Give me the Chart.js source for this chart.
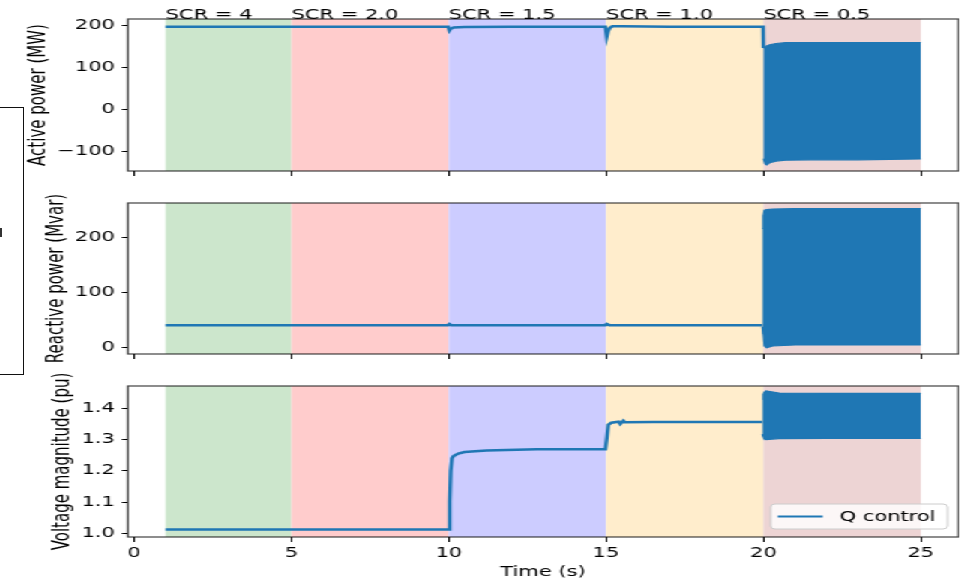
<!DOCTYPE html>
<html>
<head>
<meta charset="utf-8">
<script src="https://cdn.jsdelivr.net/npm/chart.js@4.4.1/dist/chart.umd.min.js"></script>
<style>
  html, body { margin: 0; padding: 0; background: #fff; overflow: hidden; }
  #fig { position: relative; width: 961px; height: 582px; overflow: hidden; }
  #stretch { position: absolute; left: 0; top: 0; width: 641px; height: 582px;
             transform: scaleX(1.4992); transform-origin: 0 0; }
  #stretch canvas { position: absolute; left: 0; }
  #bracket { position: absolute; left: -4px; top: 107px; width: 26px; height: 266px;
             border: 1.5px solid #111; }
  #mark { position: absolute; left: 0; top: 228px; width: 2px; height: 9px; background: #333; }
</style>
</head>
<body>
<div id="fig">
  <div id="bracket"></div>
  <div id="mark"></div>
  <div id="stretch">
    <canvas id="cP" width="641" height="188" style="top:0px"></canvas>
    <canvas id="cQ" width="641" height="182" style="top:188px"></canvas>
    <canvas id="cV" width="641" height="212" style="top:370px"></canvas>
  </div>
</div>
<script>
// SCR test windows
const scrStart = [1, 5, 10, 15, 20];
const scrEnd = [5, 10, 15, 20, 25];
const scrLabels = ['SCR = 4', 'SCR = 2.0', 'SCR = 1.5', 'SCR = 1.0', 'SCR = 0.5'];
const scrColors = ['rgb(204,230,204)', 'rgb(255,204,204)', 'rgb(204,204,255)', 'rgb(255,237,204)', 'rgb(237,212,212)'];

// active power (MW)
const pTime = [1, 5, 9.98, 10.02, 10.06, 10.15, 10.5, 12, 14.98, 15.02, 15.06, 15.12, 15.2, 15.5, 17, 19.99, 20.0];
const pValues = [196, 196, 196, 187, 191, 194, 195, 196, 196, 172, 184, 193, 197, 197, 196, 196, 145];
const pBandTime = [20.0, 20.05, 20.1, 20.2, 20.4, 20.7, 21.5, 23, 25.0];
const pBandHigh = [145, 147, 150, 153, 156, 158, 158, 158, 158];
const pBandLow = [-118, -130, -133, -128, -124, -122, -121, -121, -119];

// reactive power (Mvar)
const qTime = [1, 5, 9.98, 10.02, 10.08, 12, 14.98, 15.02, 15.1, 17, 19.96];
const qValues = [41, 41, 41, 43, 41, 41, 41, 43, 41, 41, 41];
const qBandTime = [19.96, 19.99, 20.03, 20.1, 20.3, 21, 23, 25.0];
const qBandHigh = [217, 240, 250, 251, 252, 253, 253, 253];
const qBandLow = [38, 25, 3, 0, 3, 5, 5, 5];

// voltage magnitude (pu)
const vTime = [1, 5, 10.0, 10.03, 10.06, 10.1, 10.15, 10.3, 10.5, 11.2, 12.8, 14.98, 15.03, 15.07, 15.17, 15.4, 15.45, 15.55, 15.6, 16.5, 19.96];
const vValues = [1.012, 1.012, 1.012, 1.10, 1.20, 1.240, 1.247, 1.255, 1.260, 1.265, 1.269, 1.269, 1.31, 1.347, 1.354, 1.357, 1.350, 1.360, 1.355, 1.356, 1.356];
const vBandTime = [19.96, 19.99, 20.03, 20.08, 20.5, 22, 25.0];
const vBandHigh = [1.43, 1.445, 1.452, 1.456, 1.449, 1.448, 1.448];
const vBandLow = [1.317, 1.31, 1.302, 1.300, 1.303, 1.304, 1.304];

const seriesName = 'Q control';
const tMin = -0.2, tMax = 26.2;
const blue = '#1f77b4';

Chart.defaults.font.family = '"DejaVu Sans", sans-serif';
Chart.defaults.font.size = 14;
Chart.defaults.color = '#000';

const pts = (xs, ys) => xs.map((x, i) => ({ x: x, y: ys[i] }));

function series(time, values, bandTime, bandHigh, bandLow) {
  return [
    { label: seriesName, data: pts(time, values), borderColor: blue, borderWidth: 2.5, pointRadius: 0, fill: false },
    { label: seriesName + ' low', data: pts(bandTime, bandLow), borderColor: blue, borderWidth: 1.2, pointRadius: 0, fill: false },
    { label: seriesName + ' high', data: pts(bandTime, bandHigh), borderColor: blue, borderWidth: 1.2, pointRadius: 0,
      backgroundColor: blue, fill: '-1' }
  ];
}

// coloured SCR windows behind the traces
const spans = {
  id: 'spans',
  beforeDatasetsDraw(chart) {
    const { ctx, chartArea: a, scales: { x } } = chart;
    ctx.save();
    scrStart.forEach((s, i) => {
      const x0 = x.getPixelForValue(s), x1 = x.getPixelForValue(scrEnd[i]);
      ctx.fillStyle = scrColors[i];
      ctx.fillRect(x0, a.top, x1 - x0, a.bottom - a.top);
    });
    ctx.restore();
  }
};

const frame = {
  id: 'frame',
  afterDraw(chart) {
    const { ctx, chartArea: a } = chart;
    ctx.save();
    ctx.strokeStyle = 'rgba(0,0,0,0.75)';
    ctx.lineWidth = 1.2;
    ctx.strokeRect(a.left, a.top, a.right - a.left, a.bottom - a.top);
    ctx.restore();
  }
};

const scrText = {
  id: 'scrText',
  afterDraw(chart) {
    const { ctx, chartArea: a, scales: { x } } = chart;
    ctx.save();
    ctx.fillStyle = '#000';
    ctx.font = '14px "DejaVu Sans"';
    ctx.textBaseline = 'alphabetic';
    ctx.textAlign = 'left';
    scrStart.forEach((s, i) => ctx.fillText(scrLabels[i], x.getPixelForValue(s), a.top));
    ctx.restore();
  }
};

const legendBox = {
  id: 'legendBox',
  afterDraw(chart) {
    const { ctx, chartArea: a } = chart;
    const ds = chart.data.datasets[0];
    const w = 118, h = 25;
    const x = a.right - 7.3 - w, y = a.bottom - 8 - h;
    ctx.save();
    ctx.beginPath();
    ctx.roundRect(x, y, w, h, 3);
    ctx.fillStyle = 'rgba(255,255,255,0.8)';
    ctx.fill();
    ctx.strokeStyle = '#cccccc';
    ctx.lineWidth = 1;
    ctx.stroke();
    ctx.beginPath();
    ctx.moveTo(x + 4.7, y + h / 2);
    ctx.lineTo(x + 34.7, y + h / 2);
    ctx.strokeStyle = ds.borderColor;
    ctx.lineWidth = 2;
    ctx.stroke();
    ctx.fillStyle = '#000';
    ctx.font = '14px "DejaVu Sans"';
    ctx.textBaseline = 'middle';
    ctx.fillText(ds.label, x + 46, y + h / 2 + 1);
    ctx.restore();
  }
};

const minus = v => String(v).replace('-', '\u2212');

function makeChart(id, o) {
  return new Chart(document.getElementById(id), {
    type: 'line',
    data: { datasets: o.datasets },
    options: {
      responsive: false,
      animation: false,
      events: [],
      layout: { padding: { top: o.padTop, right: 1.7, left: 0, bottom: 0 } },
      plugins: { legend: { display: false }, tooltip: { enabled: false } },
      elements: { line: { tension: 0 } },
      scales: {
        x: {
          type: 'linear', min: tMin, max: tMax,
          afterFit: s => { s.height = o.xHeight; },
          ticks: { stepSize: 5, includeBounds: false, padding: 3, display: o.xLabels, color: '#000' },
          grid: { drawOnChartArea: false, drawTicks: true, tickLength: 5, tickColor: '#000', tickWidth: 1 },
          border: { display: false },
          title: { display: o.xLabels, text: 'Time (s)', color: '#000', padding: { top: 0, bottom: 0.8 } }
        },
        y: {
          min: o.yMin, max: o.yMax,
          afterFit: s => { s.width = 85.3; },
          ticks: { stepSize: o.step, includeBounds: false, padding: 4.6, color: '#000', callback: o.fmt },
          grid: { drawOnChartArea: false, drawTicks: true, tickLength: 4, tickColor: '#000', tickWidth: 1 },
          border: { display: false },
          title: { display: true, text: o.label, color: '#000', font: { size: 15 },
                   padding: { top: o.titlePad, bottom: 0 } }
        }
      }
    },
    plugins: [spans, frame].concat(o.extra || [])
  });
}

makeChart('cP', {
  datasets: series(pTime, pValues, pBandTime, pBandHigh, pBandLow),
  padTop: 19, xHeight: 17, xLabels: false,
  yMin: -147.6, yMax: 214.3, step: 100, fmt: v => minus(v),
  label: 'Active power (MW)', titlePad: 16.7,
  extra: [scrText]
});

makeChart('cQ', {
  datasets: series(qTime, qValues, qBandTime, qBandHigh, qBandLow),
  padTop: 15, xHeight: 16, xLabels: false,
  yMin: -11.5, yMax: 263.1, step: 100, fmt: v => minus(v),
  label: 'Reactive power (Mvar)', titlePad: 29
});

makeChart('cV', {
  datasets: series(vTime, vValues, vBandTime, vBandHigh, vBandLow),
  padTop: 16, xHeight: 45, xLabels: true,
  yMin: 0.988, yMax: 1.4714, step: 0.1, fmt: v => v.toFixed(1),
  label: 'Voltage magnitude (pu)', titlePad: 33,
  extra: [legendBox]
});
</script>
</body>
</html>
